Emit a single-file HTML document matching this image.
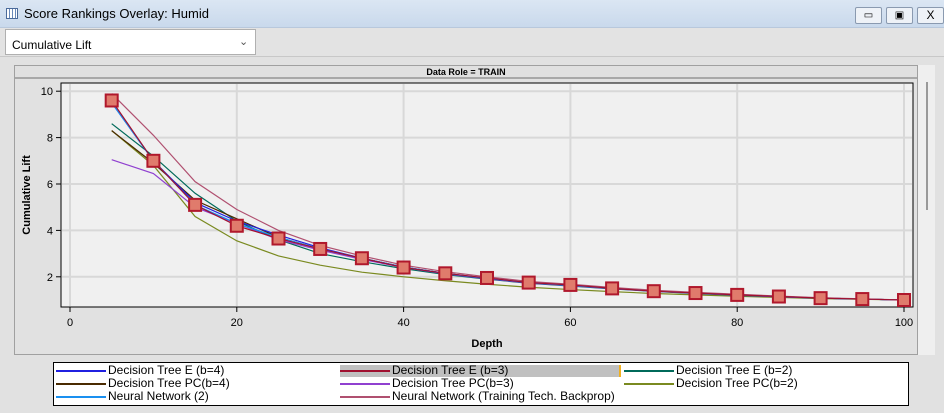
<!DOCTYPE html>
<html><head><meta charset="utf-8"><style>
body{margin:0;width:944px;height:413px;overflow:hidden;background:#e1e1e1;font-family:"Liberation Sans",sans-serif;position:relative}
div{position:absolute;box-sizing:border-box}
</style></head><body>
<div style="left:0;top:0;width:944px;height:28px;background:linear-gradient(#dbe6f3,#c9d9ec);border-bottom:1px solid #b8c8dc"></div>
<div style="left:6px;top:8px;width:12px;height:11px;border:1px solid #4a6a9a;background:repeating-linear-gradient(90deg,#fff 0 2px,#6a8aba 2px 3px)"></div>
<div style="left:24px;top:6px;font-size:13px;color:#000">Score Rankings Overlay: Humid</div>
<div style="left:855px;top:7px;width:27px;height:17px;border:1px solid #8a9ab0;border-radius:2px;background:#eef2f7;font-size:10px;text-align:center;line-height:15px">▭</div>
<div style="left:886px;top:7px;width:27px;height:17px;border:1px solid #8a9ab0;border-radius:2px;background:#eef2f7;font-size:10px;text-align:center;line-height:15px">▣</div>
<div style="left:917px;top:7px;width:27px;height:17px;border:1px solid #8a9ab0;border-radius:2px;background:#eef2f7;font-size:12px;text-align:center;line-height:15px">X</div>
<div style="left:0;top:28px;width:944px;height:29px;background:#e3e3e3;border-bottom:1px solid #c8c8c8"></div>
<div style="left:5px;top:29px;width:251px;height:26px;background:#fff;border:1px solid #b0b0b0;font-size:12px;padding:8px 0 0 6px">Cumulative Lift<span style="position:absolute;left:233px;top:5px;color:#555;font-size:11px">⌄</span></div>
<div style="left:14px;top:65px;width:904px;height:290px;border:1px solid #a0a0a0;background:#e1e1e1"></div>
<div style="left:15px;top:66px;width:902px;height:13px;background:#e0e0e0;border-bottom:2px solid #a8a8a8;font-size:9px;font-weight:bold;text-align:center;line-height:12px">Data Role = TRAIN</div>
<div style="left:918px;top:65px;width:17px;height:290px;background:#efefef"></div>
<div style="left:926px;top:82px;width:2px;height:128px;background:#999"></div>
<svg style="position:absolute;left:0;top:0" width="944" height="413">
<g id="g"></g></svg>
<div style="left:53px;top:362px;width:856px;height:44px;background:#fff;border:1px solid #000"></div>
<div id="leg"></div>
<script>
const depths=[5,10,15,20,25,30,35,40,45,50,55,60,65,70,75,80,85,90,95,100];
const seriesNames=["Decision Tree E (b=4)","Decision Tree E (b=3)","Decision Tree E (b=2)","Decision Tree PC(b=4)","Decision Tree PC(b=3)","Decision Tree PC(b=2)","Neural Network (2)","Neural Network (Training Tech. Backprop)"];
const seriesColors=["#2020e0","#a01030","#006a5a","#4a2a00","#9040d0","#7a8a20","#1a90f0","#b05070"];
const dtE4=[9.5,7.0,5.2,4.4,3.8,3.25,2.8,2.42,2.15,1.93,1.75,1.63,1.5,1.38,1.3,1.22,1.15,1.08,1.04,1.0];
const dtE3=[9.6,7.0,5.1,4.2,3.65,3.2,2.8,2.4,2.15,1.95,1.75,1.65,1.5,1.38,1.3,1.22,1.15,1.08,1.04,1.0];
const dtE2=[8.6,7.2,5.6,4.4,3.6,3.0,2.65,2.35,2.1,1.9,1.72,1.6,1.48,1.37,1.28,1.2,1.14,1.08,1.04,1.0];
const dtPC4=[8.3,6.9,5.3,4.5,3.7,3.2,2.8,2.42,2.15,1.93,1.74,1.62,1.5,1.38,1.3,1.22,1.15,1.08,1.04,1.0];
const dtPC3=[7.05,6.45,5.0,4.3,3.6,3.15,2.75,2.4,2.13,1.92,1.73,1.62,1.49,1.38,1.29,1.21,1.14,1.08,1.04,1.0];
const dtPC2=[8.3,6.8,4.6,3.55,2.9,2.5,2.2,2.0,1.83,1.68,1.55,1.45,1.36,1.28,1.22,1.16,1.11,1.06,1.03,1.0];
const nn2=[9.5,7.0,5.1,4.3,3.7,3.2,2.8,2.42,2.15,1.94,1.75,1.63,1.5,1.38,1.3,1.22,1.15,1.08,1.04,1.0];
const nnBp=[9.9,8.1,6.1,4.9,4.0,3.35,2.9,2.5,2.22,2.0,1.8,1.68,1.54,1.42,1.33,1.25,1.17,1.1,1.05,1.0];
const xTicks=[0,20,40,60,80,100];
const yTicks=[2,4,6,8,10];
const allSeries=[dtE4,dtE3,dtE2,dtPC4,dtPC3,dtPC2,nn2,nnBp];
const X=v=>70+v*8.34, Y=v=>300-(v-1)*23.2;
const NS="http://www.w3.org/2000/svg",g=document.getElementById('g');
function mk(t,a){const e=document.createElementNS(NS,t);for(const k in a)e.setAttribute(k,a[k]);g.appendChild(e);return e;}
const bg=mk('rect',{x:61,y:83,width:852,height:224,fill:'#f0f0f0',stroke:'#000','stroke-width':1});


xTicks.forEach(t=>{const l=mk('line',{x1:X(t),x2:X(t),y1:84,y2:306,stroke:'#d8d8d8','stroke-width':2});


mk('line',{x1:X(t),x2:X(t),y1:307,y2:312,stroke:'#000'});
const tx=mk('text',{x:X(t),y:326,'text-anchor':'middle','font-size':11});tx.textContent=t;

});
yTicks.forEach(t=>{const l=mk('line',{x1:62,x2:912,y1:Y(t),y2:Y(t),stroke:'#d8d8d8','stroke-width':2});


mk('line',{x1:56,x2:61,y1:Y(t),y2:Y(t),stroke:'#000'});
const tx=mk('text',{x:53,y:Y(t)+4,'text-anchor':'end','font-size':11});tx.textContent=t;

});
const xt=mk('text',{x:487,y:347,'text-anchor':'middle','font-size':11,'font-weight':'bold'});xt.textContent='Depth';


const yt=mk('text',{x:0,y:0,'text-anchor':'middle','font-size':11,'font-weight':'bold',transform:'translate(30,195) rotate(-90)'});yt.textContent='Cumulative Lift';


[5,2,3,4,0,6,7,1].forEach(i=>{const p=mk('polyline',{points:depths.map((d,j)=>X(d)+','+Y(allSeries[i][j])).join(' '),fill:'none',stroke:seriesColors[i],'stroke-width':1.2});

});
depths.forEach((d,j)=>{const r=mk('rect',{x:X(d)-6,y:Y(dtE3[j])-6,width:12,height:12,fill:'#e07b6c',stroke:'#b0182c','stroke-width':2});

});
const leg=document.getElementById('leg');
const cols=[[56,108],[340,392],[624,676]],rows=[371,384,397];
seriesNames.forEach((n,i)=>{const c=cols[i%3],r=rows[Math.floor(i/3)];
if(i==1){const h=document.createElement('div');h.style.cssText='left:340px;top:365px;width:281px;height:12px;background:#c0c0c0;border-right:2px solid #f0b020';

leg.appendChild(h);}
const l=document.createElement('div');l.style.cssText=`left:${c[0]}px;top:${r-1}px;width:${c[1]-c[0]-2}px;height:2px;background:${seriesColors[i]}`;

leg.appendChild(l);
const t=document.createElement('div');t.style.cssText=`left:${c[1]}px;top:${r-7}px;font-size:12px;line-height:13px;white-space:nowrap`;t.textContent=n;

leg.appendChild(t);});
</script>
</body></html>
